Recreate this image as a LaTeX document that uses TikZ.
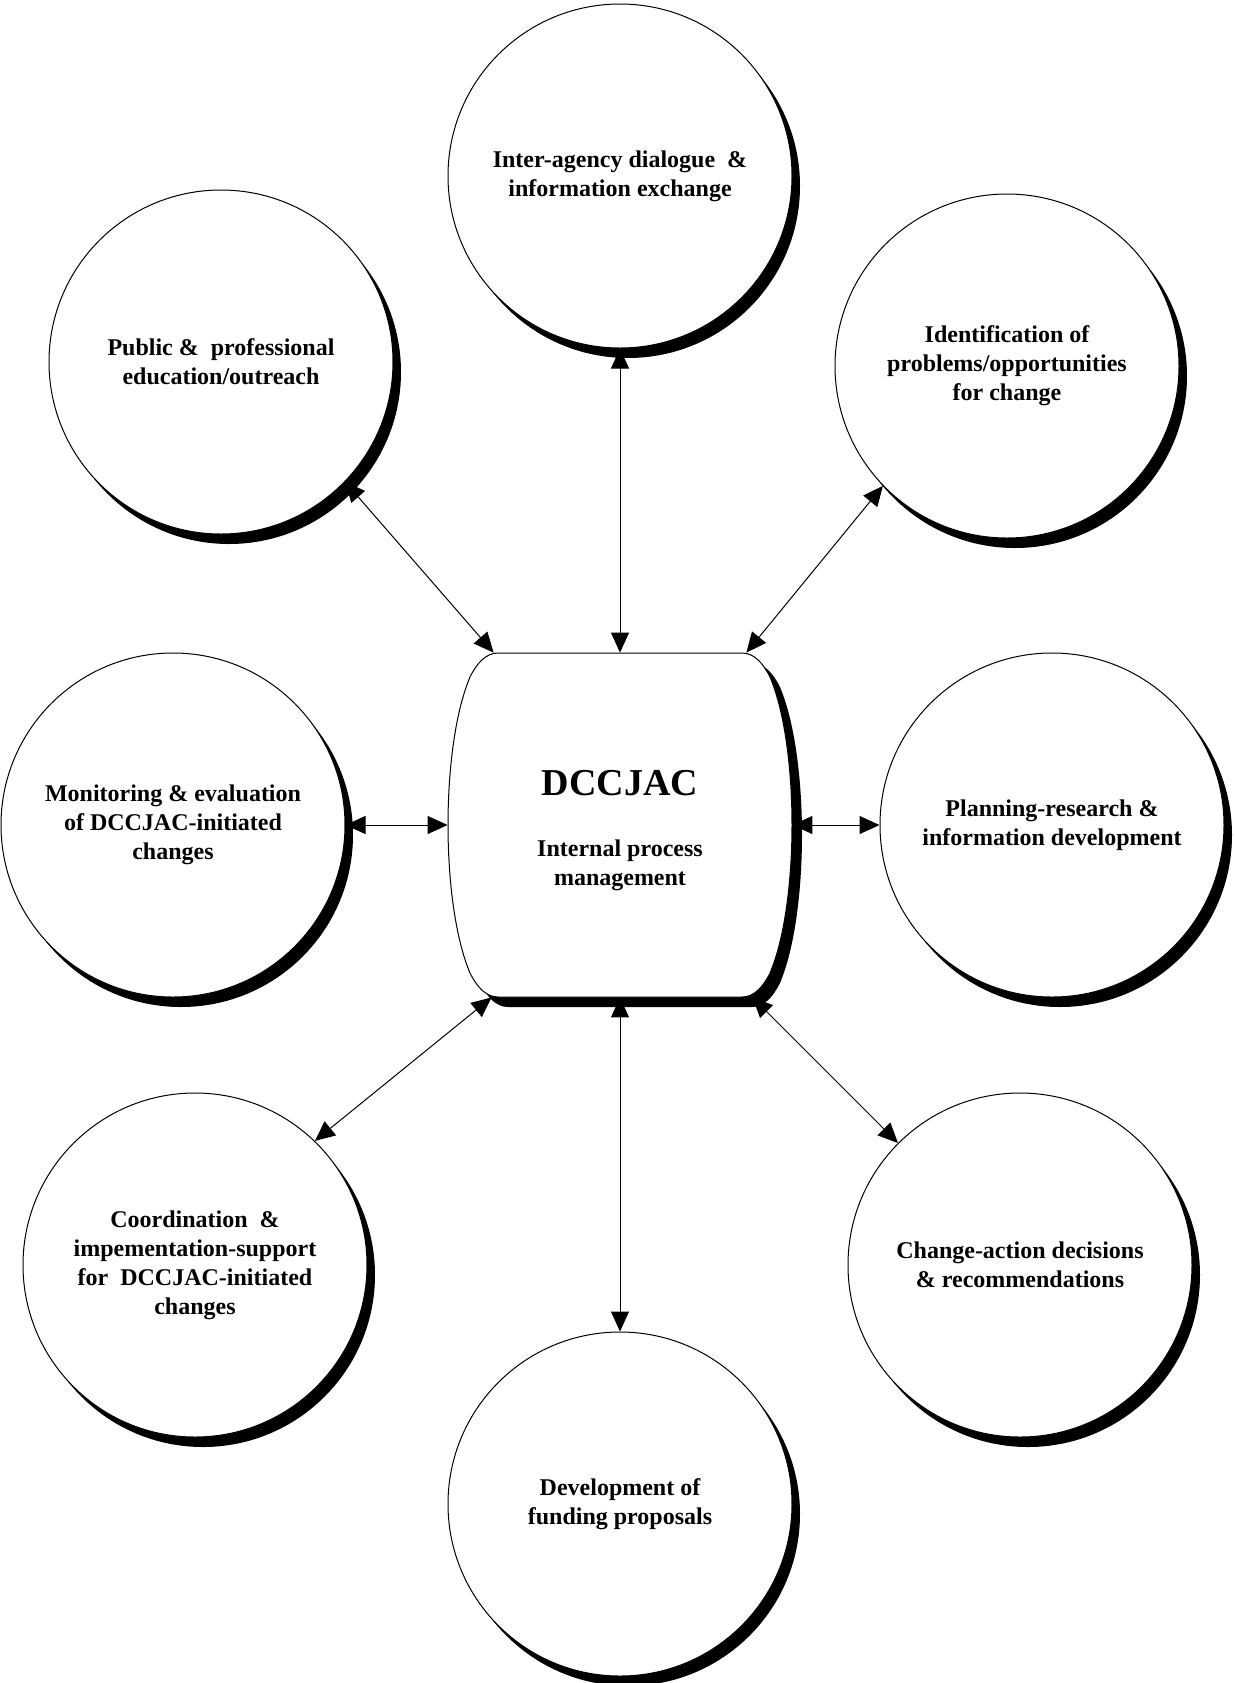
\documentclass[tikz,border=0pt]{standalone}
\usepackage{fontspec}
\setmainfont{Liberation Serif}
\usetikzlibrary{arrows.meta,shadows,backgrounds}
\begin{document}
\begin{tikzpicture}[x=0.5pt,y=-0.5pt,
  txt/.style={align=center, font=\bfseries\fontsize{12}{14.5}\selectfont},
  bub/.style={circle, draw, line width=0.5pt, fill=white, minimum size=172pt,
    inner sep=0pt, txt,
    general shadow={shadow xshift=4pt, shadow yshift=-5pt, fill=black}},
  arr/.style={{Triangle[length=10pt,width=9pt]}-{Triangle[length=10pt,width=9pt]},
    line width=0.5pt},
  ]
\useasboundingbox (0,0) rectangle (1235,1683);

\node[bub] (top)   at (620,176)  {Inter-agency dialogue\ \ \&\\information exchange};
\node[bub] (pub)   at (221,362)  {Public \&\ \ professional\\education/outreach};
\node[bub] (ident) at (1007,366) {Identification of\\problems/opportunities\\for change};
\node[bub] (mon)   at (173,825)  {Monitoring \& evaluation\\of DCCJAC-initiated\\changes};
\node[bub] (plan)  at (1052,825) {Planning-research \&\\information development};
\node[bub] (coord) at (195,1265) {Coordination\ \ \&\\impementation-support\\for\ \ DCCJAC-initiated\\changes};
\node[bub] (chg)   at (1020,1265) {Change-action decisions\\\& recommendations};
\node[bub] (dev)   at (620,1504) {Development of\\funding proposals};

\node[minimum width=172pt, minimum height=172pt, inner sep=0pt] (ctr) at (620,825) {};
\node[txt] (ctrtext) at ([shift={(0,6)}]ctr.center)
  {{\fontsize{19}{22}\selectfont DCCJAC}\\[16pt]Internal process\\management};

\begin{pgfonlayer}{background}
  \begin{scope}[shift={(ctr.center)}]
    \def\barrel{(-122,-172) -- (122,-172) .. controls (134,-172) and (143,-162) .. (150,-148)
      .. controls (166,-110) and (172,-50) .. (172,0)
      .. controls (172,50) and (166,110) .. (150,148)
      .. controls (143,162) and (134,172) .. (122,172)
      -- (-122,172) .. controls (-134,172) and (-143,162) .. (-150,148)
      .. controls (-166,110) and (-172,50) .. (-172,0)
      .. controls (-172,-50) and (-166,-110) .. (-150,-148)
      .. controls (-143,-162) and (-134,-172) .. (-122,-172) -- cycle}
    \fill[black, shift={(10,10)}] \barrel;
    \draw[line width=0.5pt, fill=white] \barrel;
  \end{scope}
\end{pgfonlayer}

\draw[arr] (top.south) -- (ctr.north);
\draw[arr] (pub.-44) -- ([shift={(46,0)}]ctr.north west);
\draw[arr] (ident.-136) -- ([shift={(-46,0)}]ctr.north east);
\draw[arr] (mon.east) -- (ctr.west);
\draw[arr] (ctr.east) -- (plan.west);
\draw[arr] (coord.46) -- ([shift={(44,0)}]ctr.south west);
\draw[arr] (chg.135) -- ([shift={(-40,0)}]ctr.south east);
\draw[arr] (ctr.south) -- (dev.north);
\end{tikzpicture}
\end{document}
